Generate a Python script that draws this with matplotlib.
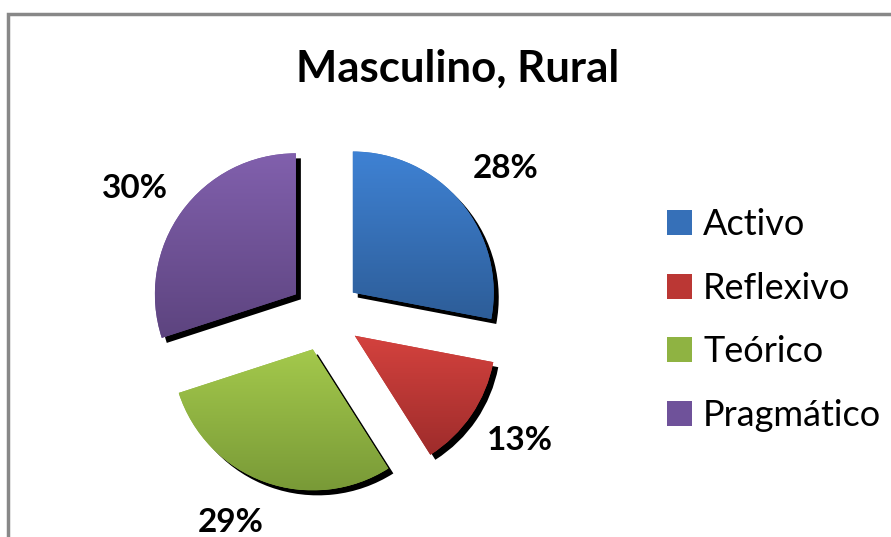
import numpy as np
import matplotlib
matplotlib.use("Agg")
import matplotlib.pyplot as plt
from matplotlib.colors import to_rgb

# data
title = "Masculino, Rural"
labels = ["Activo", "Reflexivo", "Teórico", "Pragmático"]
values = [28, 13, 29, 30]
top_colors = ["#3f82d4", "#d4423e", "#a4c94c", "#8160ad"]
bottom_colors = ["#2d5d98", "#9e2c2b", "#799a37", "#5d447f"]
mid_colors = ["#3670b8", "#bb3734", "#8fb342", "#6f529a"]

W, H = 891, 537
cx, cy = 325, H - 315.5
r = 141
gap = 36

# where Excel put the percent labels (pixel centres, from top-left)
pct_pos = [(506, 169), (520, 441), (231, 523), (135, 189)]

plt.rcParams["font.family"] = ["Lato", "DejaVu Sans"]

fig = plt.figure(figsize=(W / 100, H / 100), dpi=100)
ax = fig.add_axes([0, 0, 1, 1])

# black drop shadow
ax.pie(values, explode=[gap] * 4, radius=r, center=(cx + 5, cy - 5),
       colors=["black"] * 4, startangle=90, counterclock=False,
       wedgeprops=dict(linewidth=0))

wedges, _, pcts = ax.pie(values, explode=[gap] * 4, radius=r, center=(cx, cy),
                         colors=mid_colors, startangle=90, counterclock=False,
                         autopct="%1.0f%%", pctdistance=1.38,
                         wedgeprops=dict(linewidth=0),
                         textprops=dict(fontsize=24, fontweight="bold", color="black"))
for t, (px, py) in zip(pcts, pct_pos):
    t.set_position((px, H - py))

# vertical gradient inside each slice
for w, c1, c2 in zip(wedges, top_colors, bottom_colors):
    ext = w.get_path().get_extents()
    t = np.linspace(0, 1, 256)[:, None, None]
    grad = (1 - t) * np.array(to_rgb(c1)) + t * np.array(to_rgb(c2))
    im = ax.imshow(grad, extent=[ext.x0, ext.x1, ext.y0, ext.y1], origin="upper",
                   aspect="auto", zorder=w.get_zorder() + 0.1, interpolation="bilinear")
    im.set_clip_path(w)

ax.text(458, H - 82, title, ha="center", va="baseline", fontsize=31.5, fontweight="bold")

ax.legend(wedges, labels, loc="upper left", bbox_to_anchor=(667, H - 208),
          bbox_transform=ax.transData, frameon=False, fontsize=26,
          handlelength=0.69, handleheight=0.69, handletextpad=0.31,
          labelspacing=0.85, borderpad=0, borderaxespad=0)

# chart border, runs off the right and bottom edges
ax.plot([8, 8, W + 5], [-5, H - 14, H - 14], color="#888888", lw=2.5,
        solid_joinstyle="miter", clip_on=False)

ax.set_xlim(0, W)
ax.set_ylim(0, H)
ax.set_aspect("auto")
ax.axis("off")

fig.savefig("out.png", dpi=100)
